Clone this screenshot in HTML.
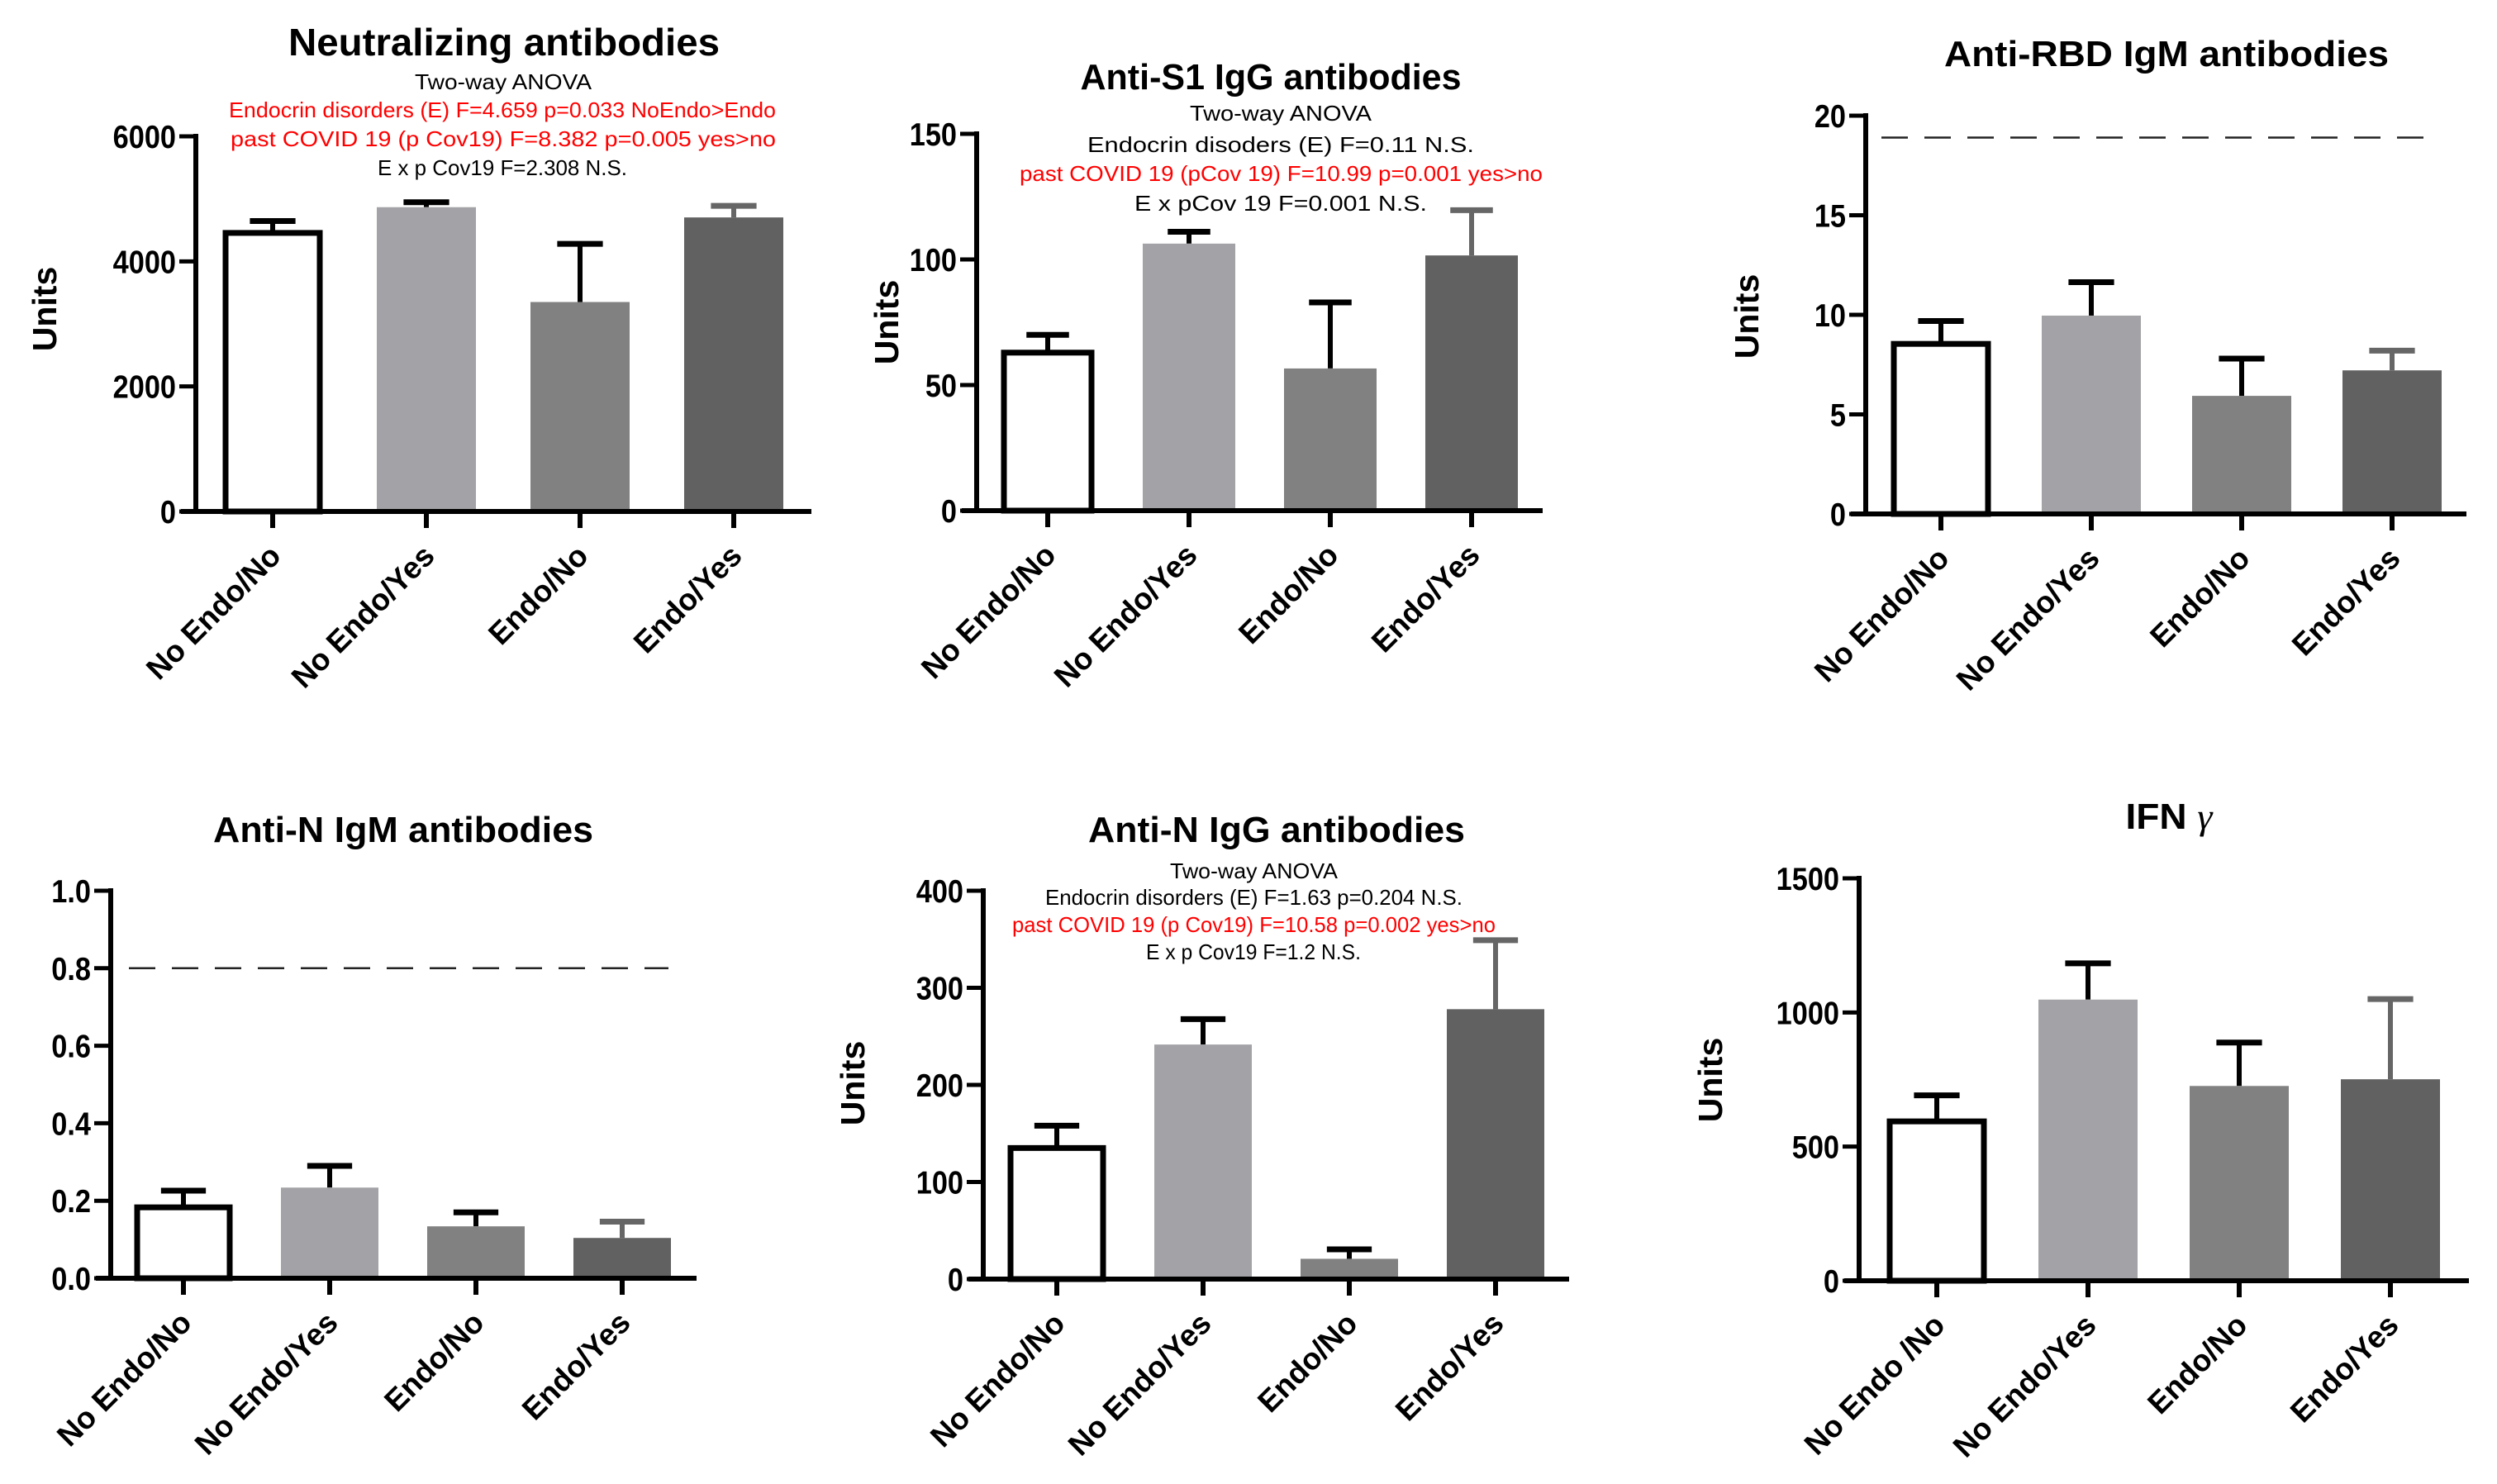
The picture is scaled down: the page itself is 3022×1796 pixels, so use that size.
<!DOCTYPE html>
<html><head><meta charset="utf-8">
<style>
html,body{margin:0;padding:0;background:#fff;}
svg{display:block;}
text{font-family:"Liberation Sans",Arial,sans-serif;}
</style></head>
<body>
<svg id="fig" xmlns="http://www.w3.org/2000/svg" width="3022" height="1796" viewBox="0 0 3022 1796">
<rect x="0" y="0" width="3022" height="1796" fill="#fff"/>
</svg>
<script>
// ---- data arrays (top level) ----
const categories = ["No Endo/No","No Endo/Yes","Endo/No","Endo/Yes"];
const categoriesIfn = ["No Endo /No","No Endo/Yes","Endo/No","Endo/Yes"];

const nabValues = [4455, 4867, 3350, 4703];
const nabErrors = [4645, 4946, 4280, 4889];
const nabTicks = [0, 2000, 4000, 6000];

const s1Values = [62.9, 106.3, 56.6, 101.6];
const s1Errors = [70, 111, 82.9, 119.6];
const s1Ticks = [0, 50, 100, 150];

const rbdValues = [8.54, 9.96, 5.93, 7.21];
const rbdErrors = [9.69, 11.64, 7.8, 8.2];
const rbdTicks = [0, 5, 10, 15, 20];
const rbdCutoff = [18.9];

const nigmValues = [0.183, 0.234, 0.134, 0.104];
const nigmErrors = [0.226, 0.29, 0.17, 0.146];
const nigmTicks = ["0.0","0.2","0.4","0.6","0.8","1.0"];
const nigmCutoff = [0.8];

const niggValues = [135, 241.6, 20.9, 278];
const niggErrors = [158, 267.8, 30.6, 349];
const niggTicks = [0, 100, 200, 300, 400];

const ifnValues = [594, 1048, 726, 751];
const ifnErrors = [691, 1183, 888, 1050];
const ifnTicks = [0, 500, 1000, 1500];

const barFills = ["#ffffff","#a3a2a6","#818181","#616161"];
const errColors = ["#000","#000","#000","#666"];

const NS = "http://www.w3.org/2000/svg";
const svg = document.getElementById('fig');
function mk(tag, attrs, parent){
  const e = document.createElementNS(NS, tag);
  for (const k in attrs) e.setAttribute(k, attrs[k]);
  (parent||svg).appendChild(e);
  return e;
}

function drawChart(c, cats, values, errors, ticks, cutoff){
  const g = mk('g', {});
  
  
  const tickNums = ticks.map(Number);
  const max = tickNums[tickNums.length-1];
  const y = v => c.y0 - (v / max) * (c.y0 - c.yTop);
  const x = i => c.x1 + i * c.dx;

  const t = mk('text', {x:c.tx, y:c.ty, 'text-anchor':'middle', 'font-size':c.tfs||44, 'font-weight':'bold', textLength:c.tw, lengthAdjust:'spacingAndGlyphs'}, g);
  
  
  if (c.gamma){
    t.textContent = 'IFN ';
    const ts = mk('tspan', {'font-family':'"Liberation Serif",serif','font-style':'italic','font-weight':'normal'}, t);
    ts.textContent = 'γ';
  } else t.textContent = c.title;

  (c.notes||[]).forEach(n => {
    const a = mk('text', {x:(n[1]+n[2])/2, y:n[0], 'text-anchor':'middle', 'font-size':26, fill:n[4], textLength:n[2]-n[1], lengthAdjust:'spacingAndGlyphs'}, g);
    
    
    a.textContent = n[3];
  });

  values.forEach((v,i) => {
    const cx = x(i), bw = c.bw;
    const eb = mk('g', {}, g);
    
    
    const cw = bw*0.46;
    mk('line', {x1:cx, x2:cx, y1:y(v), y2:y(errors[i]), stroke:errColors[i], 'stroke-width':6}, eb);
    mk('line', {x1:cx-cw/2, x2:cx+cw/2, y1:y(errors[i]), y2:y(errors[i]), stroke:errColors[i], 'stroke-width':7}, eb);
    let b;
    if (i === 0) {
      b = mk('rect', {x:cx-bw/2+3, y:y(v), width:bw-6, height:c.y0-y(v), fill:'#fff', stroke:'#000', 'stroke-width':7}, g);
    } else {
      b = mk('rect', {x:cx-bw/2, y:y(v), width:bw, height:c.y0-y(v), fill:barFills[i]}, g);
    }
    
    
  });

  if (cutoff){
    const d = mk('line', {x1:c.dx1, x2:c.dx2, y1:y(cutoff[0]), y2:y(cutoff[0]), stroke:'#222', 'stroke-width':2.5, 'stroke-dasharray':'32 20'}, g);
    
    
  }

  const ya = mk('line', {x1:c.ax, x2:c.ax, y1:c.yTop-3, y2:c.y0+3, stroke:'#000', 'stroke-width':6}, g);
  
  
  const xa = mk('line', {x1:c.ax-18, x2:c.xEnd, y1:c.y0, y2:c.y0, stroke:'#000', 'stroke-width':6}, g);
  
  

  ticks.forEach(tk => {
    const ty = y(Number(tk));
    mk('line', {x1:c.ax-20, x2:c.ax, y1:ty, y2:ty, stroke:'#000', 'stroke-width':5}, g);
    const lx = c.ax-24;
    const l = mk('text', {x:lx, y:ty+14, 'text-anchor':'end', 'font-size':39, 'font-weight':'bold', transform:`translate(${lx},0) scale(0.88,1) translate(${-lx},0)`}, g);
    
    
    l.textContent = String(tk);
  });

  cats.forEach((cat,i) => {
    const cx = x(i);
    mk('line', {x1:cx, x2:cx, y1:c.y0, y2:c.y0+20, stroke:'#000', 'stroke-width':6}, g);
    const lx = cx+12, ly = c.y0+56;
    const l = mk('text', {x:lx, y:ly, 'text-anchor':'end', 'font-size':37, 'font-weight':'bold', transform:`rotate(-45 ${lx} ${ly})`}, g);
    
    
    l.textContent = cat;
  });

  if (c.ux){
    const u = mk('text', {x:c.ux, y:c.uy, 'text-anchor':'middle', 'font-size':41, 'font-weight':'bold', transform:`rotate(-90 ${c.ux} ${c.uy})`, dy:14}, g);
    
    
    u.textContent = 'Units';
  }
}

drawChart({name:'chart-neutralizing-antibodies', title:'Neutralizing antibodies', tx:610, ty:67, tw:522, tfs:46,
  ax:237, y0:619, yTop:165, xEnd:982, x1:330, dx:186, bw:120, ux:54, uy:374,
  notes:[[108,502,716,'Two-way ANOVA','#000'],
         [142,277,939,'Endocrin disorders (E)   F=4.659 p=0.033 NoEndo>Endo','#f00'],
         [177,279,939,'past COVID 19 (p Cov19) F=8.382 p=0.005         yes>no','#f00'],
         [212,457,759,'E x p Cov19 F=2.308 N.S.','#000']]},
  categories, nabValues, nabErrors, nabTicks, null);

drawChart({name:'chart-anti-s1-igg', title:'Anti-S1 IgG antibodies', tx:1538, ty:108, tw:461,
  ax:1182, y0:618, yTop:162, xEnd:1867, x1:1268, dx:171, bw:112, ux:1073, uy:390,
  notes:[[146,1440,1660,'Two-way ANOVA','#000'],
         [184,1316,1784,'Endocrin disoders (E)   F=0.11 N.S.','#000'],
         [219,1234,1867,'past COVID 19 (pCov 19) F=10.99 p=0.001 yes>no','#f00'],
         [255,1373,1727,'E  x pCov 19 F=0.001 N.S.','#000']]},
  categories, s1Values, s1Errors, s1Ticks, null);

drawChart({name:'chart-anti-rbd-igm', title:'Anti-RBD IgM antibodies', tx:2622, ty:80, tw:538,
  ax:2258, y0:622, yTop:140, xEnd:2985, x1:2349, dx:182, bw:120, ux:2114, uy:383, dx1:2277, dx2:2937},
  categories, rbdValues, rbdErrors, rbdTicks, rbdCutoff);

drawChart({name:'chart-anti-n-igm', title:'Anti-N IgM antibodies', tx:488, ty:1019, tw:460,
  ax:134, y0:1547, yTop:1078, xEnd:843, x1:222, dx:177, bw:118, dx1:156, dx2:809},
  categories, nigmValues, nigmErrors, nigmTicks, nigmCutoff);

drawChart({name:'chart-anti-n-igg', title:'Anti-N IgG antibodies', tx:1545, ty:1019, tw:456,
  ax:1190, y0:1548, yTop:1078, xEnd:1899, x1:1279, dx:177, bw:118, ux:1032, uy:1311,
  notes:[[1063,1416,1619,'Two-way ANOVA','#000'],
         [1095,1265,1770,'Endocrin disorders (E)   F=1.63 p=0.204 N.S.','#000'],
         [1128,1225,1810,'past COVID 19 (p Cov19) F=10.58 p=0.002  yes>no','#f00'],
         [1161,1387,1647,'E x p Cov19 F=1.2 N.S.','#000']]},
  categories, niggValues, niggErrors, niggTicks, null);

drawChart({name:'chart-ifn-gamma', gamma:true, tx:2625, ty:1003, tw:105,
  ax:2250, y0:1550, yTop:1063, xEnd:2988, x1:2344, dx:183, bw:120, ux:2070, uy:1307},
  categoriesIfn, ifnValues, ifnErrors, ifnTicks, null);
</script>
</body></html>
